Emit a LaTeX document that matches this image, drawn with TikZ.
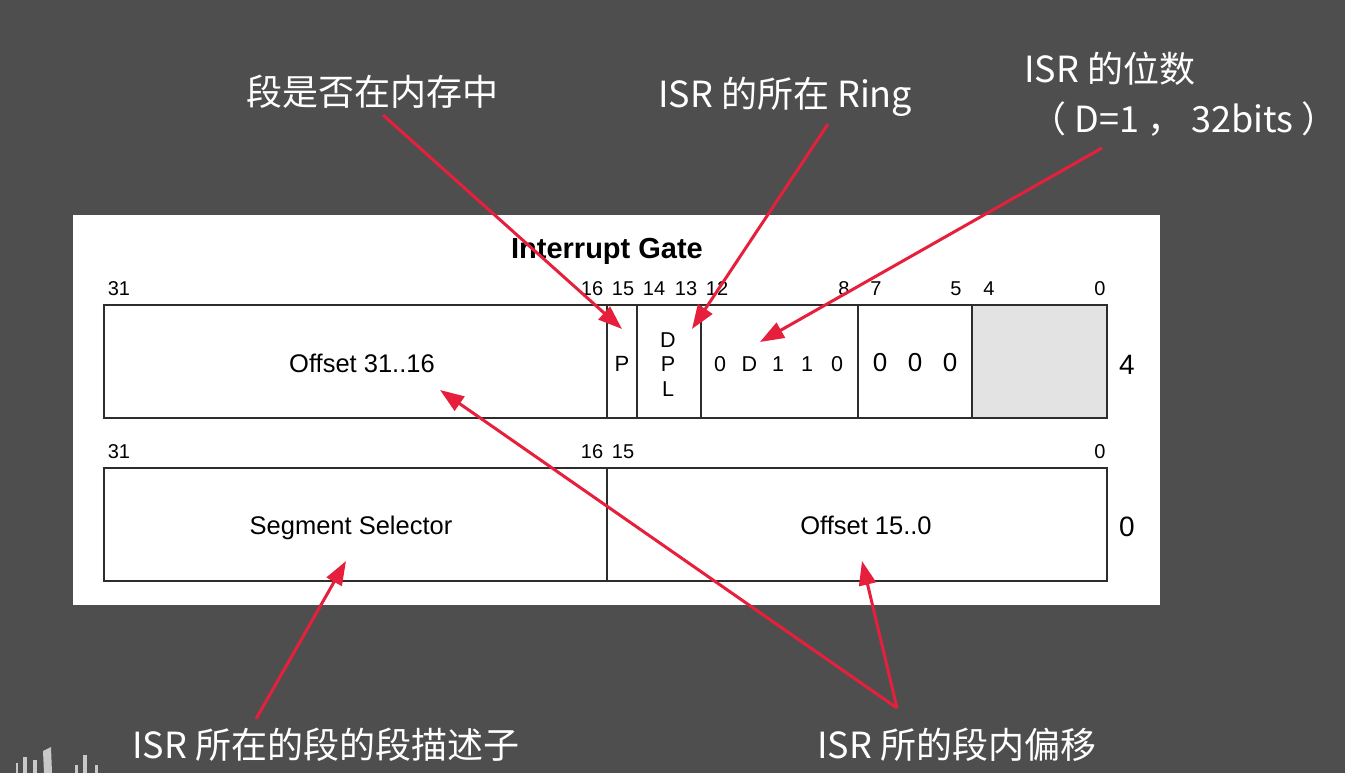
\documentclass[tikz,border=0pt]{standalone}
\usepackage{fontspec}
\setmainfont{Liberation Sans}
\newfontfamily\cjkfont{Noto Sans CJK SC}
\usetikzlibrary{arrows.meta}
\definecolor{slide}{RGB}{78,78,78}
\definecolor{mark}{RGB}{230,32,60}
\definecolor{cellgray}{RGB}{227,227,227}
\definecolor{rule}{RGB}{45,45,45}
\definecolor{logo}{RGB}{200,200,200}

\begin{document}
\begin{tikzpicture}[x=1pt,y=-1pt,
  note/.style={text=white, font=\cjkfont\fontsize{36}{40}\selectfont, inner sep=0pt, anchor=base west},
  bitno/.style={font=\fontsize{20}{22}\selectfont, inner sep=0pt},
  field/.style={font=\fontsize{25.5}{28}\selectfont, inner sep=0pt, anchor=base},
  flag/.style={font=\fontsize{21.5}{24}\selectfont, inner sep=0pt},
  zero/.style={font=\fontsize{26}{28}\selectfont, inner sep=0pt},
  rowno/.style={font=\fontsize{28}{30}\selectfont, inner sep=0pt},
  pointer/.style={draw=mark, line width=3pt, -{Triangle[length=24pt,width=17pt]}},
  outline/.style={draw=rule, line width=2pt},
  divider/.style={draw=rule, line width=1.2pt},
]
% slide background
\useasboundingbox (0,0) rectangle (1345,773);
\fill[slide] (0,0) rectangle (1345,773);

% logo fragment, bottom left
\fill[logo] (16,763) rectangle (18,773);
\fill[logo] (23,757) rectangle (27,773);
\fill[logo] (33,760) rectangle (37,773);
\fill[logo] (43,751) -- (51,747) -- (52,773) -- (44,773) -- cycle;
\fill[logo] (75,765) rectangle (78,773);
\fill[logo] (83,755) rectangle (87,773);
\fill[logo] (95,765) rectangle (98,773);

% white panel with the gate layout
\fill[white] (73,215) rectangle (1160,605);
\node[font=\bfseries\fontsize{29}{31}\selectfont, inner sep=0pt] (title) at (607,251) {Interrupt Gate};

% upper doubleword (offset 4)
\fill[cellgray] (972,305) rectangle (1107,418);
\draw[divider] (607,305) -- (607,418) (637,305) -- (637,418) (701,305) -- (701,418)
               (858,305) -- (858,418) (972,305) -- (972,418);
\draw[outline] (104,305) rectangle (1107,418);

\foreach \x/\t [count=\i] in {119/31,592/16,623/15,654/14,686/13,717/12,844/8,876/7,956/5,989/4,1100/0}
  \node[bitno] (hibit\i) at (\x,289) {\t};

\node[field] (offhi) at (362,372) {Offset 31..16};
\node[flag, font=\fontsize{22}{24}\selectfont] (present) at (622,364) {P};
\node[flag] (dplD) at (668,340) {D};
\node[flag] (dplP) at (668,364) {P};
\node[flag] (dplL) at (668,389) {L};
\foreach \x/\t [count=\i] in {720/0,749.5/D,778/1,807/1,837/0}
  \node[flag] (type\i) at (\x,364) {\t};
\foreach \x [count=\i] in {880,915,950}
  \node[zero] (rsv\i) at (\x,363) {0};
\node[rowno] (row4) at (1127,365) {4};

% lower doubleword (offset 0)
\draw[divider] (607,468) -- (607,581);
\draw[outline] (104,468) rectangle (1107,581);
\foreach \x/\t [count=\i] in {119/31,592/16,623/15,1100/0}
  \node[bitno] (lobit\i) at (\x,452) {\t};
\node[field] (selector) at (351,534) {Segment Selector};
\node[field] (offlo) at (866,534) {Offset 15..0};
\node[rowno] (row0) at (1127,527) {0};

% annotations
\node[note] (inmem) at (246,106) {段是否在内存中};
\node[note] (ring) at (658,108) {ISR 的所在 Ring};
\node[note] (bits) at (1024,83) {ISR 的位数};
\node[note] (dflag) at (1030,133) {（ D=1 ， 32bits ）};
\node[note] (segdesc) at (132,758) {ISR 所在的段的段描述子};
\node[note] (segoff) at (817,758) {ISR 所的段内偏移};

% pointer ends
\coordinate (inmemFrom) at (383,115);
\coordinate (inmemTo) at (622,329);
\coordinate (ringFrom) at (828,124);
\coordinate (ringTo) at (692,329);
\coordinate (bitsFrom) at (1102,148);
\coordinate (bitsTo) at (760,342);
\coordinate (segoffFrom) at (897,708);
\coordinate (offhiTo) at (440,390);
\coordinate (offloTo) at (862,561);
\coordinate (segdescFrom) at (256,719);
\coordinate (selectorTo) at (346,561);

\draw[pointer] (inmemFrom) -- (inmemTo);
\draw[pointer] (ringFrom) -- (ringTo);
\draw[pointer] (bitsFrom) -- (bitsTo);
\draw[pointer] (segoffFrom) -- (offhiTo);
\draw[pointer] (segoffFrom) -- (offloTo);
\draw[pointer] (segdescFrom) -- (selectorTo);
\end{tikzpicture}
\end{document}
